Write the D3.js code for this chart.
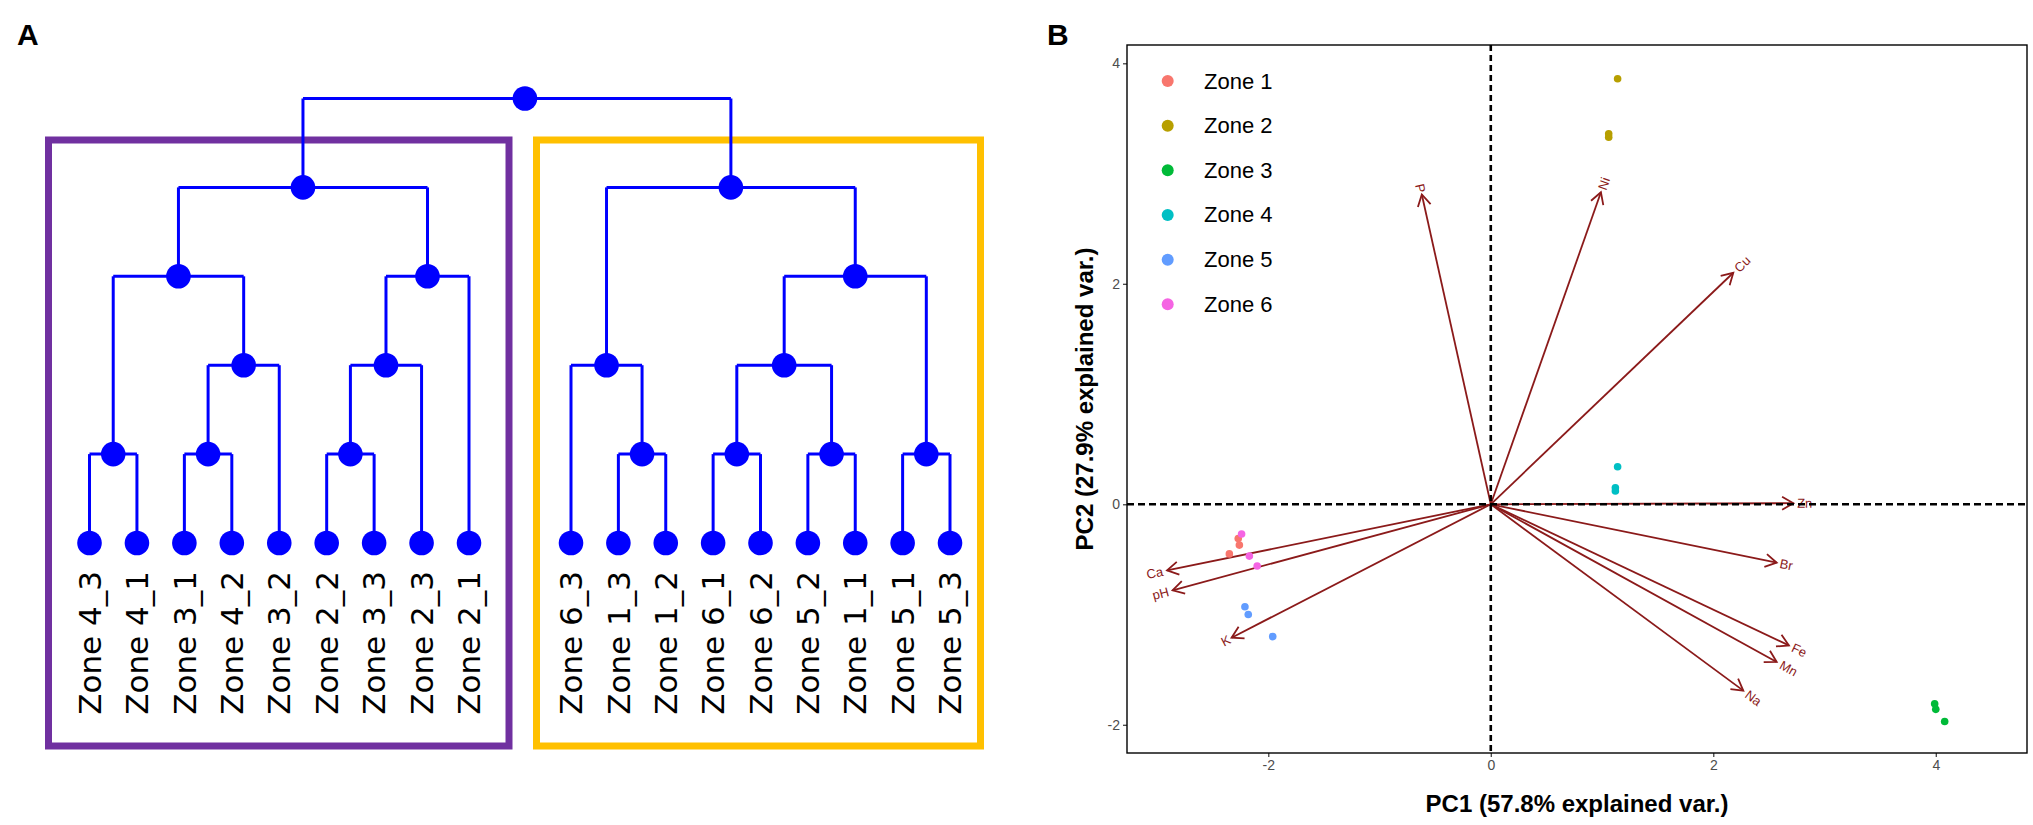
<!DOCTYPE html>
<html>
<head>
<meta charset="utf-8">
<script src="https://cdn.jsdelivr.net/npm/d3@7"></script>
<style>
  body { margin: 0; background: #fff; }
</style>
</head>
<body>
<script>
// ---------- panel A data ----------
const leafLabels = ["Zone 4_3", "Zone 4_1", "Zone 3_1", "Zone 4_2", "Zone 3_2", "Zone 2_2", "Zone 3_3", "Zone 2_3", "Zone 2_1",
                    "Zone 6_3", "Zone 1_3", "Zone 1_2", "Zone 6_1", "Zone 6_2", "Zone 5_2", "Zone 1_1", "Zone 5_1", "Zone 5_3"];
// merge structure (leaf indices), one nested array per boxed cluster
const leftCluster = [[[0, 1], [[2, 3], 4]], [[[5, 6], 7], 8]];
const rightCluster = [[9, [10, 11]], [[[12, 13], [14, 15]], [16, 17]]];
const clusterColors = ["#7030A0", "#FFC000"];

// ---------- panel B data ----------
const zoneNames = ["Zone 1", "Zone 2", "Zone 3", "Zone 4", "Zone 5", "Zone 6"];
const zoneColors = ["#F8766D", "#B79F00", "#00BA38", "#00BFC4", "#619CFF", "#F564E3"];
const sampleZone = [1, 1, 1, 2, 2, 2, 3, 3, 3, 4, 4, 4, 5, 5, 5, 6, 6, 6];
const samplePC1 = [-2.27, -2.26, -2.35, 1.14, 1.06, 1.06, 3.99, 4.00, 4.08, 1.14, 1.12, 1.12, -2.21, -2.18, -1.96, -2.24, -2.17, -2.10];
const samplePC2 = [-0.31, -0.37, -0.45, 3.86, 3.36, 3.33, -1.81, -1.86, -1.97, 0.34, 0.15, 0.12, -0.93, -1.00, -1.20, -0.27, -0.47, -0.56];
const varNames = ["P", "Ni", "Cu", "Zn", "Br", "Fe", "Mn", "Na", "Ca", "pH", "K"];
const varPC1 = [-0.62, 0.99, 2.18, 2.72, 2.57, 2.68, 2.57, 2.27, -2.91, -2.86, -2.33];
const varPC2 = [2.81, 2.83, 2.10, 0.01, -0.53, -1.28, -1.43, -1.69, -0.60, -0.78, -1.21];
const axisTicks = [-2, 0, 2, 4];

const W = 2033, H = 825;
const svg = d3.select("body").append("svg")
    .attr("width", W)
    .attr("height", H)
    .style("font-family", "'Liberation Sans', Arial, sans-serif");

// panel letters
svg.append("text").attr("x", 17).attr("y", 45).attr("font-size", 30).attr("font-weight", "bold").text("A");
svg.append("text").attr("x", 1047).attr("y", 45).attr("font-size", 30).attr("font-weight", "bold").text("B");

// ================= A: dendrogram =================
const gA = svg.append("g");
const blue = "#0000FF";

const xLeft = d3.scalePoint().domain(d3.range(0, 9)).range([89.5, 469]);
const xRight = d3.scalePoint().domain(d3.range(9, 18)).range([571, 950]);
const leafX = i => (i < 9 ? xLeft(i) : xRight(i));
const yLevel = d3.scaleLinear().domain([0, 5]).range([543, 98.5]);

const root = d3.hierarchy([leftCluster, rightCluster], d => (Array.isArray(d) ? d : null));
root.eachAfter(n => {
  if (!n.children) n.px = leafX(n.data);
  else n.px = d3.mean(n.children, c => c.px);
  n.py = yLevel(n.height);
});
root.px += 8; // top node sits a little right of centre in the original

// boxes round the two clusters
const boxes = [
  { x0: xLeft(0) - 41, x1: xLeft(8) + 40, color: clusterColors[0] },
  { x0: xRight(9) - 34.5, x1: xRight(17) + 30.5, color: clusterColors[1] }
];
gA.selectAll("rect.box").data(boxes).enter().append("rect")
    .attr("class", "box")
    .attr("x", d => d.x0)
    .attr("y", 140)
    .attr("width", d => d.x1 - d.x0)
    .attr("height", 746 - 140)
    .attr("fill", "none")
    .attr("stroke", d => d.color)
    .attr("stroke-width", 7);

// branches
const inner = root.descendants().filter(n => n.children);
gA.selectAll("line.hbar").data(inner).enter().append("line")
    .attr("x1", d => d3.min(d.children, c => c.px))
    .attr("x2", d => d3.max(d.children, c => c.px))
    .attr("y1", d => d.py).attr("y2", d => d.py)
    .attr("stroke", blue).attr("stroke-width", 3);
gA.selectAll("line.vbar").data(root.descendants().filter(n => n.parent)).enter().append("line")
    .attr("x1", d => d.px).attr("x2", d => d.px)
    .attr("y1", d => d.py).attr("y2", d => d.parent.py)
    .attr("stroke", blue).attr("stroke-width", 3);

// nodes
gA.selectAll("circle.node").data(root.descendants()).enter().append("circle")
    .attr("cx", d => d.px).attr("cy", d => d.py).attr("r", 12.3)
    .attr("fill", blue);

// leaf labels
gA.selectAll("text.leaf").data(root.leaves()).enter().append("text")
    .attr("transform", d => "translate(" + d.px + ",571) rotate(-90)")
    .attr("text-anchor", "end")
    .attr("dy", "0.36em")
    .attr("font-family", "'DejaVu Sans', Verdana, sans-serif")
    .attr("font-size", 31)
    .attr("fill", "#000")
    .text(d => leafLabels[d.data]);

// ================= B: PCA biplot =================
const pl = { left: 1127, right: 2027, top: 45, bottom: 753 };
const x = d3.scaleLinear().domain([-3.27, 4.82]).range([pl.left, pl.right]);
const y = d3.scaleLinear().domain([-2.256, 4.166]).range([pl.bottom, pl.top]);
const gB = svg.append("g");

// axes
const xAxis = d3.axisBottom(x).tickValues(axisTicks).tickFormat(d => String(d)).tickSize(4).tickPadding(3);
const yAxis = d3.axisLeft(y).tickValues(axisTicks).tickFormat(d => String(d)).tickSize(4).tickPadding(3);
const gx = gB.append("g").attr("transform", "translate(0," + pl.bottom + ")").call(xAxis);
const gy = gB.append("g").attr("transform", "translate(" + pl.left + ",0)").call(yAxis);
[gx, gy].forEach(g => {
  g.select(".domain").remove();
  g.selectAll(".tick line").attr("stroke", "#333").attr("stroke-width", 1.2);
  g.selectAll(".tick text").attr("fill", "#4D4D4D").attr("font-size", 14)
      .attr("font-family", "'Liberation Sans', Arial, sans-serif");
});

// panel border
gB.append("rect")
    .attr("x", pl.left).attr("y", pl.top)
    .attr("width", pl.right - pl.left).attr("height", pl.bottom - pl.top)
    .attr("fill", "none").attr("stroke", "#000").attr("stroke-width", 1.4);

// arrows
const darkred = "#8B1A1A";
const vars = varNames.map((n, i) => ({ name: n, px: varPC1[i], py: varPC2[i] }));
const headLen = 13, headAng = Math.PI / 6;
gB.selectAll("line.var").data(vars).enter().append("line")
    .attr("x1", x(0)).attr("y1", y(0))
    .attr("x2", d => x(d.px)).attr("y2", d => y(d.py))
    .attr("stroke", darkred).attr("stroke-width", 1.8);
gB.selectAll("path.head").data(vars).enter().append("path")
    .attr("d", d => {
      const tx = x(d.px), ty = y(d.py);
      const a = Math.atan2(ty - y(0), tx - x(0));
      const p1 = [tx - headLen * Math.cos(a - headAng), ty - headLen * Math.sin(a - headAng)];
      const p2 = [tx - headLen * Math.cos(a + headAng), ty - headLen * Math.sin(a + headAng)];
      return "M" + p1 + "L" + [tx, ty] + "L" + p2;
    })
    .attr("fill", "none").attr("stroke", darkred).attr("stroke-width", 1.8);

// sample points
const samples = sampleZone.map((z, i) => ({ zone: z, px: samplePC1[i], py: samplePC2[i] }));
gB.selectAll("circle.pt").data(samples).enter().append("circle")
    .attr("cx", d => x(d.px)).attr("cy", d => y(d.py)).attr("r", 3.8)
    .attr("fill", d => zoneColors[d.zone - 1]);

// variable labels (ggbiplot style: rotated along the arrow, pushed outward)
gB.selectAll("text.var").data(vars).enter().append("text")
    .attr("font-size", 13)
    .attr("fill", darkred)
    .attr("dominant-baseline", "central")
    .text(d => d.name)
    .each(function (d) {
      const w = this.getComputedTextLength();
      const ang = Math.atan(d.py / d.px) * 180 / Math.PI;
      const pos = d.px >= 0;
      d3.select(this)
        .attr("text-anchor", pos ? "start" : "end")
        .attr("transform", "translate(" + x(d.px) + "," + y(d.py) + ") rotate(" + (-ang) + ")")
        .attr("x", pos ? 0.25 * w : -0.25 * w);
    });

// dashed reference lines
gB.append("line").attr("x1", pl.left).attr("x2", pl.right).attr("y1", y(0)).attr("y2", y(0))
    .attr("stroke", "#000").attr("stroke-width", 2.6).attr("stroke-dasharray", "7,4");
gB.append("line").attr("x1", x(0)).attr("x2", x(0)).attr("y1", pl.top).attr("y2", pl.bottom)
    .attr("stroke", "#000").attr("stroke-width", 2.6).attr("stroke-dasharray", "6,4");

// legend
const lg = gB.append("g");
const legY = d3.scalePoint().domain(zoneNames).range([81, 304.3]);
lg.selectAll("circle").data(zoneNames).enter().append("circle")
    .attr("cx", 1167.7).attr("cy", d => legY(d)).attr("r", 6)
    .attr("fill", (d, i) => zoneColors[i]);
lg.selectAll("text").data(zoneNames).enter().append("text")
    .attr("x", 1204).attr("y", d => legY(d))
    .attr("dominant-baseline", "central")
    .attr("font-size", 22)
    .text(d => d);

// axis titles
gB.append("text")
    .attr("x", (pl.left + pl.right) / 2).attr("y", 812)
    .attr("text-anchor", "middle").attr("font-size", 24).attr("font-weight", "bold")
    .text("PC1 (57.8% explained var.)");
gB.append("text")
    .attr("transform", "translate(1084," + ((pl.top + pl.bottom) / 2) + ") rotate(-90)")
    .attr("text-anchor", "middle").attr("dominant-baseline", "central")
    .attr("font-size", 24).attr("font-weight", "bold")
    .text("PC2 (27.9% explained var.)");
</script>
</body>
</html>
